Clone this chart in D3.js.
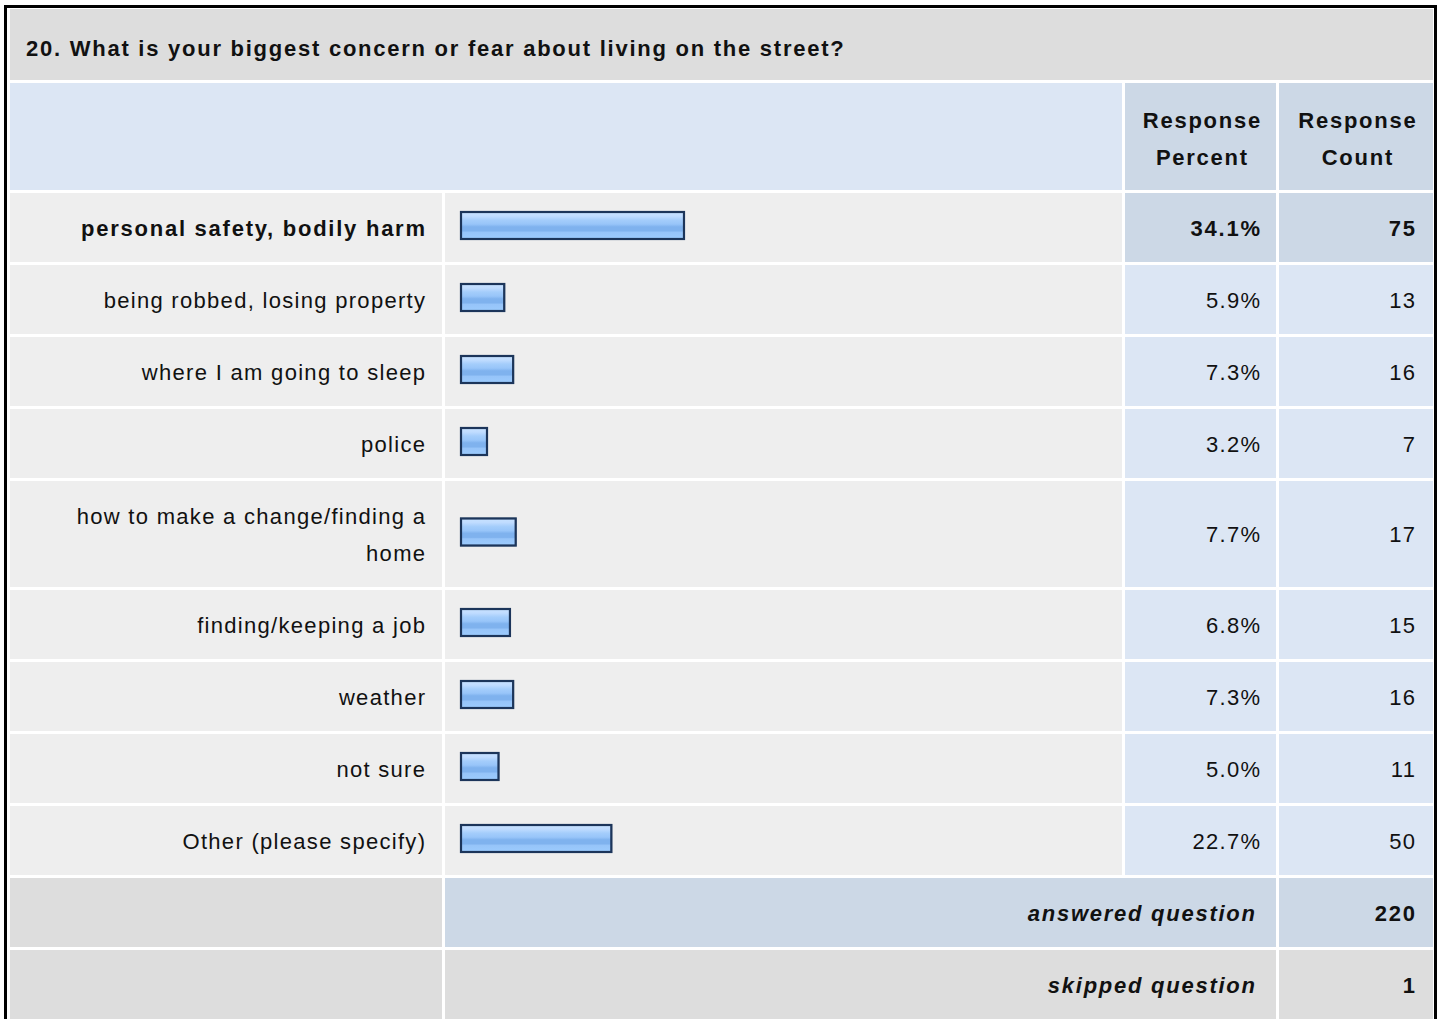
<!DOCTYPE html>
<html><head><meta charset="utf-8">
<script src="https://cdn.jsdelivr.net/npm/d3@7"></script>
<style>
html,body{margin:0;padding:0;background:#fff;}
svg{display:block;font-family:"Liberation Sans",Arial,sans-serif;}
</style></head>
<body>
<svg id="c" width="1440" height="1019"></svg>
<script>
const title = "20. What is your biggest concern or fear about living on the street?";
const categories = ["personal safety, bodily harm","being robbed, losing property","where I am going to sleep","police","how to make a change/finding a home","finding/keeping a job","weather","not sure","Other (please specify)"];
const percents = [34.1,5.9,7.3,3.2,7.7,6.8,7.3,5.0,22.7];
const counts = [75,13,16,7,17,15,16,11,50];
const headers = [["Response","Percent"],["Response","Count"]];
const summaryLabels = ["answered question","skipped question"];
const summaryValues = [220,1];

const svg = d3.select("#c");
const FS = 22, LSN = 1.3, LSB = 1.75;
const cols = {l0:10,l1:442,b0:445,b1:1122,p0:1125,p1:1276,c0:1279,c1:1433};
const gap = 3, rowH = 69, lineH = 37;

function txt(x,y,s,bold,anchor,italic){
  const ls = bold?LSB:LSN;
  const dx = anchor==="end"?ls:(anchor==="middle"?ls/2:0);
  return svg.append("text").attr("x",x+dx).attr("y",y).attr("text-anchor",anchor||"start")
    .attr("font-size",FS).attr("font-weight",bold?"bold":"normal").attr("font-style",italic?"italic":"normal")
    .attr("letter-spacing",ls).attr("fill","#111").text(s);
}

// outer border
svg.append("rect").attr("x",5.5).attr("y",6.5).attr("width",1430).attr("height",1030)
  .attr("fill","#fff").attr("stroke","#000").attr("stroke-width",3);

// title
svg.append("rect").attr("x",cols.l0).attr("y",9).attr("width",cols.c1-cols.l0).attr("height",71).attr("fill","#dddddd");
txt(26,56,title,true,"start");

// header
const hy=83, hh=107;
svg.append("rect").attr("x",cols.l0).attr("y",hy).attr("width",cols.b1-cols.l0).attr("height",hh).attr("fill","#dce6f4");
[[cols.p0,cols.p1],[cols.c0,cols.c1]].forEach((c,i)=>{
  svg.append("rect").attr("x",c[0]).attr("y",hy).attr("width",c[1]-c[0]).attr("height",hh).attr("fill","#ccd8e6");
  headers[i].forEach((s,j)=>txt((c[0]+c[1])/2+1,hy+45+j*lineH,s,true,"middle"));
});

// gradient for bars
const defs=svg.append("defs");
const g=defs.append("linearGradient").attr("id","bg").attr("x1",0).attr("y1",0).attr("x2",0).attr("y2",1);
[[0,"#c8e2ff"],[0.15,"#c0dcff"],[0.3,"#a4cdfb"],[0.45,"#98c5f9"],[0.55,"#7fb2ee"],[0.7,"#7fb2ee"],[0.75,"#96c4f9"],[1,"#9ccbfd"]]
  .forEach(s=>g.append("stop").attr("offset",s[0]).attr("stop-color",s[1]));

const x = d3.scaleLinear().domain([0,100]).range([0,637.5]);

// wrap helper
function wrapLines(text, maxW, bold){
  const tmp=svg.append("text").attr("font-size",FS).attr("font-weight",bold?"bold":"normal").attr("letter-spacing",bold?LSB:LSN);
  const words=text.split(" "); const lines=[]; let cur="";
  words.forEach(w=>{
    const test=cur?cur+" "+w:w; tmp.text(test);
    if(tmp.node().getComputedTextLength()>maxW && cur){lines.push(cur);cur=w;} else cur=test;
  });
  lines.push(cur); tmp.remove(); return lines;
}

let y = hy+hh+gap;
const maxIdx = d3.maxIndex(percents);
categories.forEach((cat,i)=>{
  const bold = i===maxIdx;
  const lines = wrapLines(cat,372,bold);
  const h = rowH + (lines.length-1)*lineH;
  const cy = y + h/2;
  svg.append("rect").attr("x",cols.l0).attr("y",y).attr("width",cols.l1-cols.l0).attr("height",h).attr("fill","#eeeeee");
  svg.append("rect").attr("x",cols.b0).attr("y",y).attr("width",cols.b1-cols.b0).attr("height",h).attr("fill","#eeeeee");
  svg.append("rect").attr("x",cols.p0).attr("y",y).attr("width",cols.p1-cols.p0).attr("height",h).attr("fill",bold?"#ccd8e6":"#dce6f4");
  svg.append("rect").attr("x",cols.c0).attr("y",y).attr("width",cols.c1-cols.c0).attr("height",h).attr("fill",bold?"#ccd8e6":"#dce6f4");
  lines.forEach((s,j)=>txt(425,cy+8-(lines.length-1)*lineH/2+j*lineH,s,bold,"end"));
  // bar
  const bw = x(percents[i])+5.6, by = cy-15.5;
  svg.append("rect").attr("x",460.5).attr("y",by-0.5).attr("width",bw+1).attr("height",28).attr("fill","none").attr("stroke","#8a96a6").attr("stroke-width",1);
  svg.append("rect").attr("x",461).attr("y",by).attr("width",bw).attr("height",27).attr("fill","url(#bg)").attr("stroke","#1c355a").attr("stroke-width",2.2);
  txt(1260,cy+8,percents[i].toFixed(1)+"%",bold,"end");
  txt(1415,cy+8,counts[i],bold,"end");
  y += h + gap;
});

summaryLabels.forEach((lab,i)=>{
  const h=rowH, cy=y+h/2;
  svg.append("rect").attr("x",cols.l0).attr("y",y).attr("width",cols.l1-cols.l0).attr("height",h).attr("fill","#dddddd");
  svg.append("rect").attr("x",cols.b0).attr("y",y).attr("width",cols.p1-cols.b0).attr("height",h).attr("fill",i===0?"#ccd8e6":"#dddddd");
  svg.append("rect").attr("x",cols.c0).attr("y",y).attr("width",cols.c1-cols.c0).attr("height",h).attr("fill",i===0?"#ccd8e6":"#dddddd");
  txt(1255,cy+8,lab,true,"end",true);
  txt(1415,cy+8,summaryValues[i],true,"end");
  y += h + gap;
});
</script>
</body></html>
